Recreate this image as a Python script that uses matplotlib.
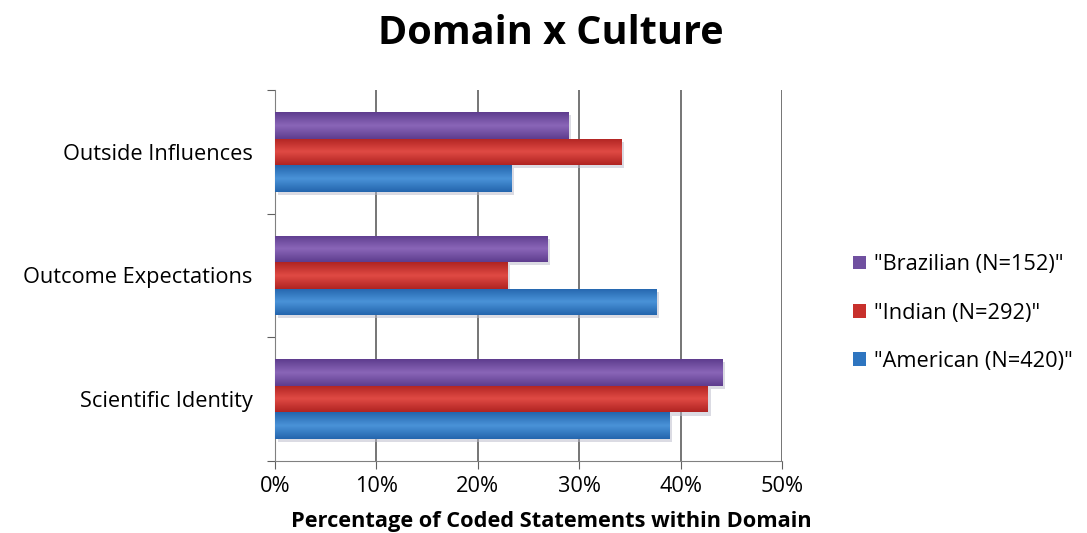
import numpy as np
import matplotlib.pyplot as plt
from matplotlib.patches import Rectangle
from matplotlib.colors import LinearSegmentedColormap

# categories bottom -> top, as drawn
domains = ['Scientific Identity', 'Outcome Expectations', 'Outside Influences']
american = [38.9, 37.6, 23.3]
indian = [42.7, 22.9, 34.2]
brazilian = [44.1, 26.9, 28.9]
series_names = ['"American (N=420)"', '"Indian (N=292)"', '"Brazilian (N=152)"']
x_ticks = [0, 10, 20, 30, 40, 50]

plt.rcParams['font.family'] = ['Open Sans', 'DejaVu Sans']
fs = 15.7

fig = plt.figure(figsize=(10.87, 5.33), dpi=100)
ax = fig.add_axes([275/1087, 1-461/533, (782-275)/1087, (461-90)/533])

# (light, dark) shades for the gradient look
shades = [('#4a93d8', '#2465ad'), ('#e04a44', '#b02422'), ('#8a66b8', '#5e3d8e')]
base = ['#2e75c0', '#c8302c', '#7050a0']
bar_h = 0.215
y = np.arange(len(domains))
offsets = [-bar_h, 0, bar_h]

handles = []
for vals, off, (lt, dk), col, name in zip([american, indian, brazilian], offsets, shades, base, series_names):
    bars = ax.barh(y + off, vals, height=bar_h, color=col, zorder=3, label=name)
    handles.append(bars)
    cmap = LinearSegmentedColormap.from_list('g', [dk, lt, dk])
    for b in bars:
        x0, y0 = b.get_x(), b.get_y()
        w, h = b.get_width(), b.get_height()
        # soft drop shadow
        ax.add_patch(Rectangle((x0 + 0.25, y0 - 0.025), w, h, color='#b8b8c8', alpha=0.5, zorder=2, lw=0))
        grad = np.linspace(0, 1, 64).reshape(-1, 1)
        im = ax.imshow(grad, cmap=cmap, aspect='auto', extent=(x0, x0 + w, y0, y0 + h),
                       origin='lower', zorder=4)
        im.set_clip_path(b)

ax.set_xlim(0, 50)
ax.set_ylim(-0.5, 2.5)
ax.set_xticks(x_ticks)
ax.set_xticklabels([f'{t}%' for t in x_ticks], fontsize=fs)
ax.set_yticks([-0.5, 0.5, 1.5, 2.5])
ax.set_yticklabels([])
ax.set_yticks(y, minor=True)
ax.set_yticklabels(domains, minor=True, fontsize=fs)
ax.tick_params(axis='y', which='minor', length=0, pad=16)
ax.tick_params(axis='y', which='major', length=6, color='#606060', direction='out')
ax.tick_params(axis='x', length=6, color='#606060', direction='out', pad=5)
ax.xaxis.grid(True, color='#505050', lw=1.1, zorder=0)
ax.set_axisbelow(True)
for s in ['top', 'right']:
    ax.spines[s].set_visible(False)
ax.spines['left'].set_color('#808080')
ax.spines['bottom'].set_color('#808080')

fig.text(551/1087, 1-33/533, 'Domain x Culture', ha='center', va='center', fontsize=28.5, fontweight='bold')
fig.text(551/1087, 1-521/533, 'Percentage of Coded Statements within Domain', ha='center', va='center',
         fontsize=fs, fontweight='bold')

leg = fig.legend(handles[::-1], series_names[::-1], loc='center left', bbox_to_anchor=(833/1087, 1-313/533),
                 frameon=False, fontsize=fs, handlelength=0.6, handleheight=0.6, labelspacing=1.25,
                 handletextpad=0.4)

fig.savefig('out.png', dpi=100)
